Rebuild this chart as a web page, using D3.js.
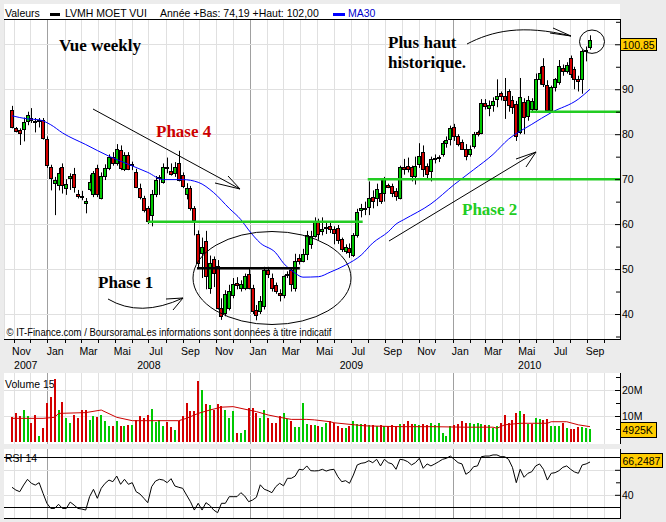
<!DOCTYPE html>
<html><head><meta charset="utf-8">
<script src="https://cdn.jsdelivr.net/npm/d3@7"></script>
<style>
html,body{margin:0;padding:0;background:#ececec;}
svg{display:block;font-family:"Liberation Sans",Arial,sans-serif;}
</style></head><body>
<svg id="c" width="666" height="522"></svg>
<script>
// ---------- DATA ----------
const firstWeek = [2007, 9, 29]; // Monday 29 Oct 2007, weekly bars
const opens = [85.4,81.3,81.0,81.1,83.0,83.6,83.0,82.9,83.2,78.9,
72.8,69.1,68.7,72.8,68.0,70.2,71.2,66.6,66.3,64.6,
67.7,66.6,72.4,65.9,70.7,72.4,75.0,73.5,76.5,72.3,
75.4,73.3,71.5,68.0,65.9,63.5,62.0,66.8,70.2,69.3,
72.8,71.8,71.3,73.5,70.9,66.8,68.0,63.5,57.8,53.5,
56.3,45.8,52.2,50.7,41.3,40.2,41.3,44.3,46.8,45.8,
45.8,49.0,45.8,41.0,40.6,41.7,49.9,48.0,46.4,44.7,
44.3,48.8,49.7,45.8,52.5,51.9,53.3,55.5,57.4,60.7,
58.5,59.1,59.6,58.9,59.1,56.6,54.0,54.6,53.1,57.5,
63.2,63.5,63.7,66.0,65.7,67.0,67.0,68.6,68.4,67.4,
65.7,72.8,73.0,72.6,70.7,73.3,76.1,73.0,71.9,74.5,
74.6,75.6,78.1,79.0,81.5,79.5,78.3,76.7,75.6,77.4,
80.4,80.2,87.0,85.9,86.4,87.8,89.1,88.6,89.6,87.5,
86.7,80.5,87.1,84.0,85.7,85.6,92.2,95.1,91.0,85.4,
90.4,91.5,94.7,94.0,96.9,94.4,92.3,92.2,98.8,99.3];
const highs = [86.3,81.6,81.3,83.7,85.0,85.8,83.6,83.6,83.6,79.5,
73.2,70.5,72.5,73.5,70.0,71.3,72.5,67.6,67.4,65.8,
71.0,71.8,73.2,71.5,73.3,75.5,76.0,77.8,77.5,76.0,
76.0,73.9,72.3,69.0,66.3,64.0,67.6,70.7,70.9,73.5,
74.8,73.5,73.8,76.3,71.5,69.1,68.5,64.0,58.6,57.0,
58.5,53.0,52.8,52.0,43.5,45.3,46.5,48.0,48.2,47.5,
49.0,50.3,46.5,42.0,44.0,50.5,50.5,49.0,47.0,45.5,
48.6,49.5,50.2,53.4,53.3,54.5,58.5,58.5,61.5,61.2,
61.5,60.5,60.3,59.5,59.8,57.0,55.5,55.7,58.0,63.4,
64.5,65.0,69.5,67.5,69.0,70.0,70.5,69.0,69.0,68.0,
73.0,74.5,74.8,73.0,75.0,78.0,77.5,73.5,75.0,75.5,
75.3,78.5,79.5,81.9,82.3,80.0,78.8,77.8,77.5,80.5,
80.8,87.8,87.8,87.5,88.2,92.2,89.5,92.5,90.0,88.5,
87.4,92.5,88.0,88.5,88.0,93.5,95.0,96.9,92.0,90.8,
92.5,96.5,95.5,96.0,97.5,95.0,93.0,98.8,99.5,102.0];
const lows = [81.3,80.4,77.6,78.4,82.0,82.5,80.4,81.5,78.8,72.5,
67.5,62.0,67.5,66.8,66.5,67.6,67.0,65.7,65.3,62.4,
67.3,66.0,66.0,65.5,69.8,72.0,73.0,73.0,72.0,71.8,
72.0,72.0,68.0,65.5,62.6,60.0,59.5,66.0,66.5,69.0,
71.3,70.8,70.5,69.5,68.0,65.5,63.0,57.5,50.0,48.0,
45.5,44.5,46.0,41.0,38.7,39.5,40.8,43.5,45.5,45.0,
45.3,45.5,40.0,38.6,40.0,41.0,48.0,45.0,44.5,42.8,
43.5,48.0,45.0,45.0,51.0,51.5,52.0,54.5,57.0,56.5,
57.5,57.8,58.0,55.5,55.6,53.8,53.4,52.5,52.7,57.0,
61.5,62.0,62.0,63.5,64.0,64.5,65.0,68.0,66.0,65.2,
65.5,71.0,71.5,69.5,68.8,72.5,70.5,70.2,69.5,73.5,
73.8,75.0,77.0,77.5,78.5,77.3,76.5,74.2,75.0,76.8,
79.5,80.0,85.5,84.0,85.0,86.0,87.5,83.4,85.0,84.5,
78.5,80.0,80.0,83.0,85.0,85.0,91.0,90.5,85.0,85.0,
89.5,91.0,93.0,93.5,92.5,90.0,89.5,89.0,96.2,98.8];
const closes = [81.7,80.7,80.2,82.8,84.2,83.2,82.8,83.1,79.1,73.2,
70.2,69.8,71.3,68.7,69.0,70.6,68.3,66.2,66.1,65.1,
69.4,71.3,66.6,70.6,72.4,75.0,73.5,76.7,72.4,75.4,
72.3,73.1,68.3,66.1,63.1,60.7,66.8,69.8,70.4,72.6,
72.4,71.1,72.6,69.8,68.5,68.1,63.5,60.9,51.4,55.0,
48.4,51.4,49.2,41.3,39.5,44.5,45.1,46.7,46.5,46.7,
48.4,45.8,40.7,39.7,42.8,49.9,48.8,45.8,45.1,44.2,
48.4,49.0,46.7,51.8,51.9,53.3,57.5,57.4,60.4,57.9,
58.9,59.3,58.9,58.1,56.4,54.4,54.8,53.7,57.5,62.6,
63.5,63.4,65.9,65.2,67.8,65.2,70.0,68.3,66.9,66.3,
72.6,72.3,72.2,70.6,73.0,75.2,72.2,71.1,74.4,74.6,
74.9,78.1,78.7,81.3,79.6,77.8,76.8,75.2,76.7,80.0,
80.0,87.0,86.3,86.6,87.4,88.6,88.4,87.5,86.4,86.0,
79.6,88.2,83.8,87.5,87.4,92.2,93.6,91.1,85.4,90.5,
92.2,95.1,94.0,95.5,93.3,92.2,91.8,98.4,98.6,100.85];
// weekly volume, millions
const volumes = [9.5,11.3,10.0,12.3,10.0,7.4,10.4,2.3,5.5,15.1,
17.4,24.2,12.3,15.5,9.3,7.4,10.4,9.1,12.3,12.3,
8.5,10.0,9.5,10.4,8.2,6.2,6.2,8.2,6.2,6.2,
6.5,6.5,8.5,10.0,9.1,10.4,12.6,7.8,8.5,6.2,
7.8,5.6,4.8,8.2,10.0,14.9,11.8,12.0,23.6,20.0,
14.6,14.2,12.3,14.6,13.9,12.3,9.1,11.8,3.3,3.3,
4.6,13.0,13.0,11.3,9.1,12.3,9.1,7.4,7.2,10.0,
11.3,8.8,8.2,5.6,5.9,14.9,6.9,6.5,6.5,6.2,
5.9,7.2,8.0,7.5,6.0,5.5,5.5,6.0,8.2,7.0,
7.0,7.0,6.5,6.5,6.2,6.5,6.2,6.2,6.5,6.0,
7.0,7.0,8.2,6.8,7.0,6.5,6.8,6.5,7.5,6.5,
7.3,3.3,2.3,6.0,6.5,6.8,8.0,7.5,7.3,6.8,
7.3,6.8,6.5,6.5,5.5,6.2,7.2,10.3,7.2,8.5,
11.0,12.0,10.8,7.0,7.0,9.2,8.7,8.5,9.0,6.2,
6.0,6.0,7.5,5.5,5.0,5.0,5.7,5.7,5.2,4.925];
const rsi14 = [46,43.8,42.5,47.8,52.4,49.2,47.8,49.7,41.2,33.2,
29.1,29.1,32.4,29.1,29.1,34.2,31.8,29.1,28.6,27.8,
38.5,44.4,37.2,45.2,49.2,51.8,50.5,55,48.4,52.4,
48.4,49.7,42.5,40.6,37.2,33.7,46.5,51,52.4,51.8,
49.7,52.9,47,46,45.2,39.8,34.5,27.8,33.2,27.8,
33.7,31.5,27.8,25.7,33.2,33.2,38.5,38.5,38.5,41.7,
39,34.5,35.8,38,48,44.5,43.3,41.7,46.5,49.2,
47.2,53.2,53.2,55,60.4,59.9,63.1,59.3,59.1,59.3,
60.4,59,60,60.4,54.5,50.5,51.3,49.2,55.8,63.9,
65.2,65.7,67.3,65.7,68.4,63.1,68.4,65.7,64.7,60.4,
68.4,67.9,66.5,63.9,65.7,69.2,61.2,64.7,63.1,64.7,
66.5,68.4,69.2,71,68.4,65.7,64.7,56.4,58.5,62.5,
63.1,70.5,71,71,71.9,71.9,70.5,70.5,68.4,62,
49.7,60.4,54,57.2,58.5,63.1,64.7,60.4,51.8,57.2,
57.7,59.3,62,63.1,60.4,58.3,57.2,63.9,64.7,66.25];
// MA30 (week index, value)
const maWeeks  = [0,4,7,10,13,19,25,30,35,39,44,48,52,56,59,61,64,68,70,73,75,79,82,86,90,93,97,99,101,108,114,119,124,128,134,139,146,149];
const maValues = [84.1,83.4,83.2,82.1,80.3,77.7,75.1,73.3,71.5,69.9,69.9,69.3,67,63.5,61,58.7,55.8,53.6,51.3,49.1,48.2,48.3,49.3,50.9,53.1,55.8,58.3,60,61,64.5,68.8,72.1,75.5,78.9,82.2,84.8,87.8,90];
// Volume MA15 (week index, millions)
const vmaWeeks  = [0,8,11,12,19,23,27,31,43,45,48,51,54,57,61,63,66,69,72,76,78,82,83,91,100,108,117,124,125,127,131,138,139,143,146,149];
const vmaValues = [9.1,9.1,9.5,11.0,11.3,12.3,9.5,8.2,8.2,9.1,11.0,12.3,13.4,13.6,12.3,11.7,10.4,9.5,8.7,8.7,8.5,7.8,7.4,6.2,5.9,5.9,5.7,5.7,5.3,6.6,7.2,7.2,7.8,7.8,6.6,5.9];
// horizontal levels drawn on the chart (price, from week, to week)
const greenLevels = [[60.5,35,90.4],[70,91.7,null],[85,133.6,null]];
const blackLevel  = [50.2,47.7,74.2];
const monthAbbr = ["Jan","Fév","Mar","Avr","Mai","Juin","Jul","Aoû","Sep","Oct","Nov","Déc"];
const yearLabels = [2007,2008,2009,2010];
const priceTicks = [40,50,60,70,80,90,100];
const priceLabels = [40,50,60,70,80,90];   // 100 hidden by the value box
const volTicks = [10,20];
const rsiTicks = [40,60];
const rsiLabels = [40];                      // 60 hidden by the value box

// ---------- LAYOUT ----------
const L=4, R=620;
const mainTop=19, mainBot=339, volTop=373, volBot=444, rsiTop=449, rsiBot=518;
const RED="#d40000", GREEN="#00c800", GRID="#e0e0e0", DARKGRID="#a0a0a0";
const svg=d3.select("#c");
const n=closes.length;
const dates=d3.range(n).map(i=>new Date(firstWeek[0],firstWeek[1],firstWeek[2]+7*i));
const x=d3.scaleTime().domain([dates[0],dates[n-1]]).range([12,590]);
const xw=w=>{const i=Math.floor(w),f=w-i;return x(dates[Math.min(i,n-1)])+f*(x(dates[1])-x(dates[0]));};
const y=d3.scaleLinear().domain([35,105]).range([336.5,21.8]);
const yv=d3.scaleLinear().domain([0,25]).range([442,377]);
const yr=d3.scaleLinear().domain([30,70]).range([507.3,457.3]);
const bars=d3.range(n).map(i=>({i,date:dates[i],o:opens[i],h:highs[i],l:lows[i],c:closes[i],v:volumes[i],r:rsi14[i],
  up: i===0 ? closes[i]>=opens[i] : closes[i]>=closes[i-1]}));
const px=d=>Math.round(x(d.date));

svg.append("rect").attr("width",666).attr("height",522).attr("fill","#ececec");
[[4,mainBot],[volTop,volBot],[rsiTop,rsiBot]].forEach(([t,b])=>svg.append("rect").attr("x",L).attr("y",t).attr("width",R-L).attr("height",b-t).attr("fill","#fff"));

const months=d3.timeMonth.range(new Date(2007,10,1),new Date(2010,10,1));
function vgrid(t,b){
  svg.append("g").selectAll("line").data(months).join("line")
   .attr("x1",d=>Math.round(x(d))+0.5).attr("x2",d=>Math.round(x(d))+0.5)
   .attr("y1",t).attr("y2",b).attr("stroke",d=>d.getMonth()===0?DARKGRID:GRID);
}
vgrid(mainTop,mainBot); vgrid(volTop,volBot); vgrid(rsiTop,rsiBot);
svg.append("line").attr("x1",L+0.5).attr("x2",L+0.5).attr("y1",mainTop).attr("y2",mainBot).attr("stroke",GRID);
function hgrid(vals,sc,col){
  svg.append("g").selectAll("line").data(vals).join("line")
   .attr("x1",L).attr("x2",R).attr("y1",d=>Math.round(sc(d))+0.5).attr("y2",d=>Math.round(sc(d))+0.5).attr("stroke",col);
}
hgrid(priceTicks,y,GRID); hgrid(volTicks,yv,GRID); hgrid(rsiTicks,yr,GRID); hgrid([30,70],yr,"#000");

// header
const hdr=svg.append("g").attr("font-size",10.5);
hdr.append("text").attr("x",5).attr("y",17).text("Valeurs");
hdr.append("rect").attr("x",50).attr("y",13).attr("width",10).attr("height",3).attr("fill","#000");
hdr.append("text").attr("x",65).attr("y",17).text("LVMH MOET VUI");
hdr.append("text").attr("x",160).attr("y",17).text("Année +Bas: 74,19 +Haut: 102,00");
hdr.append("rect").attr("x",333).attr("y",13).attr("width",12).attr("height",3).attr("fill","#0000ff");
hdr.append("text").attr("x",348).attr("y",17).attr("fill","#0000cc").text("MA30");

// copyright
svg.append("text").attr("x",6.5).attr("y",335.5).attr("font-size",10).attr("textLength",325).attr("lengthAdjust","spacingAndGlyphs")
  .text("© IT-Finance.com / BoursoramaLes informations sont données à titre indicatif");

// candles
const gC=svg.append("g");
gC.selectAll("line").data(bars).join("line")
  .attr("x1",d=>px(d)+0.5).attr("x2",d=>px(d)+0.5).attr("y1",d=>y(d.h)).attr("y2",d=>y(d.l)).attr("stroke","#000");
gC.selectAll("rect").data(bars).join("rect")
  .attr("x",d=>px(d)-1.5).attr("width",3)
  .attr("y",d=>Math.round(y(Math.max(d.o,d.c)))+0.5)
  .attr("height",d=>Math.max(1,Math.round(y(Math.min(d.o,d.c)))-Math.round(y(Math.max(d.o,d.c)))))
  .attr("fill",d=>d.c>=d.o?GREEN:RED).attr("stroke","#000");

// MA30
svg.append("path").datum(maWeeks.map((w,k)=>[xw(w),y(maValues[k])]))
  .attr("d",d3.line().curve(d3.curveMonotoneX)).attr("fill","none").attr("stroke","#0000ff");

// levels
greenLevels.forEach(([v,w0,w1])=>svg.append("line").attr("x1",xw(w0)).attr("x2",w1==null?R:xw(w1))
  .attr("y1",y(v)).attr("y2",y(v)).attr("stroke","#22cc22").attr("stroke-width",2.5));
svg.append("line").attr("x1",xw(blackLevel[1])).attr("x2",xw(blackLevel[2])).attr("y1",y(blackLevel[0])).attr("y2",y(blackLevel[0]))
  .attr("stroke","#000").attr("stroke-width",2.5);

// frames
const fr=svg.append("g").attr("stroke","#000");
fr.append("line").attr("x1",L).attr("x2",R).attr("y1",mainTop+0.5).attr("y2",mainTop+0.5);
fr.append("line").attr("x1",L).attr("x2",R+1).attr("y1",mainBot+0.5).attr("y2",mainBot+0.5);
fr.append("line").attr("x1",R+0.5).attr("x2",R+0.5).attr("y1",mainTop).attr("y2",mainBot);
fr.append("line").attr("x1",R+0.5).attr("x2",R+0.5).attr("y1",volTop).attr("y2",volBot);
fr.append("line").attr("x1",R+0.5).attr("x2",R+0.5).attr("y1",rsiTop).attr("y2",rsiBot+1);
fr.append("line").attr("x1",L).attr("x2",R+1).attr("y1",rsiBot+0.5).attr("y2",rsiBot+0.5);
svg.append("g").selectAll("line").data(months).join("line")
  .attr("x1",d=>Math.round(x(d))+0.5).attr("x2",d=>Math.round(x(d))+0.5).attr("y1",mainBot).attr("y2",mainBot+4).attr("stroke","#000");

// x labels
const xl=svg.append("g").attr("font-size",10.5).attr("text-anchor","middle");
xl.selectAll("text.m").data(months.filter(d=>d<new Date(2010,9,1)&&d.getMonth()%2===0)).join("text")
  .attr("x",d=>x(new Date(d.getFullYear(),d.getMonth(),15))).attr("y",355).text(d=>monthAbbr[d.getMonth()]);
xl.selectAll("text.y").data(yearLabels).join("text")
  .attr("x",yy=>(Math.max(L,x(new Date(yy,0,1)))+Math.min(607,x(new Date(yy+1,0,1))))/2).attr("y",369).text(d=>d);

// right axes
function raxis(sc,major,labels,minor,fmt){
  const g1=svg.append("g").attr("transform",`translate(${R},0)`)
   .call(d3.axisRight(sc).tickValues(major).tickSizeInner(-5).tickSizeOuter(0).tickPadding(2)
     .tickFormat(d=>labels.includes(d)?fmt(d):""));
  g1.select(".domain").remove(); g1.attr("font-size",10.5).attr("font-family",null);
  const g2=svg.append("g").attr("transform",`translate(${R},0)`)
   .call(d3.axisRight(sc).tickValues(minor).tickSizeInner(-4).tickSizeOuter(0).tickFormat(""));
  g2.select(".domain").remove();
}
raxis(y,priceTicks,priceLabels,[35,45,55,65,75,85,95,105],d3.format("d"));
raxis(yv,volTicks,volTicks,[5,15,25],d=>d+"M");
raxis(yr,rsiTicks,rsiLabels,[50],d3.format("d"));

// volume panel
svg.append("text").attr("x",5).attr("y",388).attr("font-size",10.5).text("Volume 15");
svg.append("g").selectAll("rect").data(bars).join("rect")
  .attr("x",d=>px(d)-1).attr("width",2).attr("y",d=>Math.round(yv(d.v))).attr("height",d=>yv(0)-Math.round(yv(d.v)))
  .attr("fill",d=>d.up?GREEN:RED);
svg.append("path").datum(vmaWeeks.map((w,k)=>[xw(w),yv(vmaValues[k])]))
  .attr("d",d3.line()).attr("fill","none").attr("stroke","#cc0000");

// RSI panel
svg.append("text").attr("x",5).attr("y",462).attr("font-size",10.5).text("RSI 14");
svg.append("path").datum(bars).attr("d",d3.line().x(d=>x(d.date)).y(d=>yr(d.r)))
  .attr("fill","none").attr("stroke","#000");

// value boxes
function vbox(cy,h,w,txt){
  svg.append("rect").attr("x",R+0.5).attr("y",Math.round(cy-h/2)+0.5).attr("width",w).attr("height",h).attr("fill","#ffcc00").attr("stroke","#000");
  svg.append("text").attr("x",R+2.5).attr("y",Math.round(cy-h/2)+h/2+4.5).attr("font-size",10.5).text(txt);
}
vbox(y(closes[n-1])+4,12,36,"100,85");
vbox(yv(volumes[n-1]),15,36,"4925K");
vbox(yr(rsi14[n-1])-1.5,14,42,"66,2487");

// annotations
const ann=svg.append("g").attr("fill","none").attr("stroke","#000");
ann.append("path").attr("d","M93,109 L240,189 M215,183 L240,189 M228,176 L240,189");
ann.append("path").attr("d","M108,299 Q140,318 183,298 M166,299 L183,298 L173,310");
ann.append("path").attr("d","M389,241 L536,152 M516,159 L536,152 L526,167");
ann.append("path").attr("d","M467,44 C492,31 522,24 571,36 M553,28 L571,36 L550,33");
ann.append("ellipse").attr("cx",272).attr("cy",278).attr("rx",79).attr("ry",46.5);
ann.append("ellipse").attr("cx",592).attr("cy",41.7).attr("rx",12.5).attr("ry",11.7);

const serif='"Liberation Serif","DejaVu Serif",serif';
const tx=(t,xx,yy,col)=>svg.append("text").attr("x",xx).attr("y",yy).attr("font-family",serif).attr("font-weight","bold").attr("font-size",17).attr("fill",col).text(t);
tx("Vue weekly",59,51,"#000");
tx("Phase 4",156,137,"#cc0000");
tx("Phase 1",98,288,"#000");
tx("Phase 2",462,215,"#22cc22");
tx("Plus haut",388,48,"#000");
tx("historique.",388,68,"#000");
</script>
</body></html>
